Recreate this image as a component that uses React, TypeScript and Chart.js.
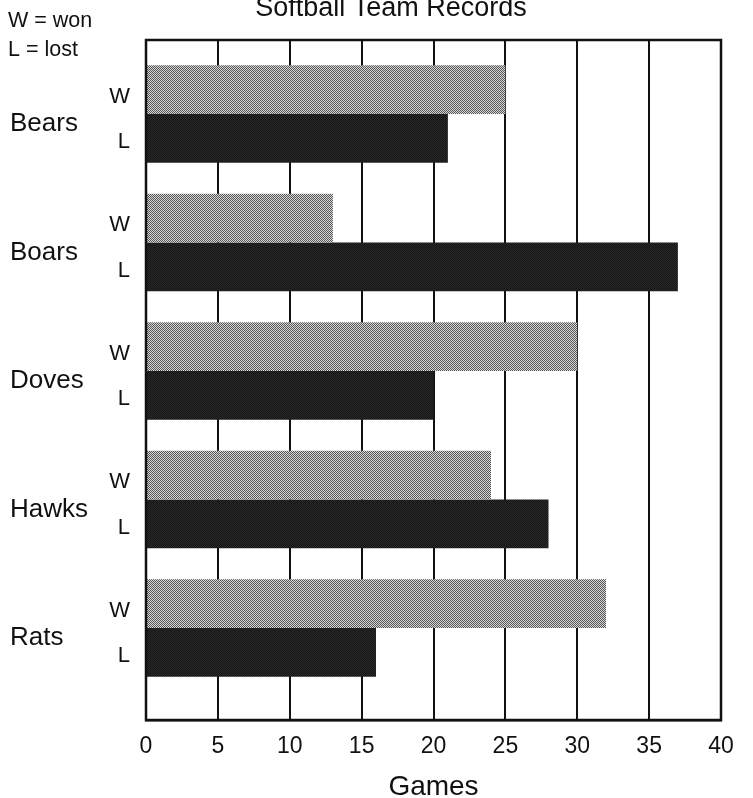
import React, { useEffect, useRef } from "react";
import { Chart, registerables } from "chart.js";

Chart.register(...registerables);

const teams = ["Bears", "Boars", "Doves", "Hawks", "Rats"];
const won = [25, 13, 30, 24, 32];
const lost = [21, 37, 20, 28, 16];
const xTicks = [0, 5, 10, 15, 20, 25, 30, 35, 40];
const seriesLabels = ["W", "L"];
const titleText = "Softball Team Records";
const keyLines = ["W = won", "L = lost"];
const xTitle = "Games";

const FONT = "'Liberation Sans', Arial, Helvetica, sans-serif";

function makePattern(a: string, b: string): CanvasPattern | string {
  const c = document.createElement("canvas");
  c.width = 2;
  c.height = 2;
  const g = c.getContext("2d");
  if (!g) return a;
  g.fillStyle = b;
  g.fillRect(0, 0, 2, 2);
  g.fillStyle = a;
  g.fillRect(0, 0, 1, 1);
  g.fillRect(1, 1, 1, 1);
  const p = g.createPattern(c, "repeat");
  return p || a;
}

export default function App() {
  const ref = useRef<HTMLCanvasElement | null>(null);

  useEffect(() => {
    document.body.style.margin = "0";
    const canvas = ref.current;
    if (!canvas) return;

    const labelShift = [7, 4];

    const textPlugin = {
      id: "extraText",
      afterDraw(chart: any) {
        const ctx = chart.ctx as CanvasRenderingContext2D;
        const area = chart.chartArea;
        ctx.save();
        ctx.strokeStyle = "#111";
        ctx.lineWidth = 2.5;
        ctx.strokeRect(area.left, area.top, area.right - area.left, area.bottom - area.top);
        ctx.fillStyle = "#111";
        ctx.font = `27px ${FONT}`;
        ctx.textAlign = "center";
        ctx.textBaseline = "alphabetic";
        ctx.fillText(titleText, 391, 16);
        ctx.font = `21.5px ${FONT}`;
        ctx.textAlign = "left";
        ctx.fillText(keyLines[0], 8, 27);
        ctx.fillText(keyLines[1], 8, 56);
        ctx.font = `22px ${FONT}`;
        ctx.textAlign = "right";
        ctx.textBaseline = "middle";
        chart.data.datasets.forEach((ds: any, di: number) => {
          const meta = chart.getDatasetMeta(di);
          meta.data.forEach((el: any) => {
            ctx.fillText(seriesLabels[di], 130, el.y + labelShift[di]);
          });
        });
        ctx.restore();
      },
    };

    const chart = new Chart(canvas, {
      type: "bar",
      data: {
        datasets: [
          {
            label: seriesLabels[0],
            data: won.map((v, i) => ({ x: v, y: i })),
            backgroundColor: makePattern("#555555", "#d8d8d8") as any,
            borderWidth: 0,
            categoryPercentage: 0.76,
            barPercentage: 1.0,
          },
          {
            label: seriesLabels[1],
            data: lost.map((v, i) => ({ x: v, y: i })),
            backgroundColor: makePattern("#141414", "#2a2a2a") as any,
            borderWidth: 0,
            categoryPercentage: 0.76,
            barPercentage: 1.0,
          },
        ],
      },
      options: {
        indexAxis: "y",
        animation: false,
        responsive: false,
        devicePixelRatio: 1,
        layout: { padding: { top: 40, right: 32, left: 10, bottom: 0 } },
        plugins: {
          legend: { display: false },
          tooltip: { enabled: false },
          title: { display: false },
        },
        scales: {
          x: {
            type: "linear",
            min: xTicks[0],
            max: xTicks[xTicks.length - 1],
            afterBuildTicks: (s: any) => {
              s.ticks = xTicks.map((v) => ({ value: v }));
            },
            afterFit: (s: any) => {
              s.height = 78;
            },
            grid: { color: "#111", lineWidth: 2, drawTicks: false },
            border: { color: "#111", width: 2.5 },
            ticks: {
              color: "#111",
              font: { family: FONT, size: 23 },
              padding: 13,
            },
            title: {
              display: true,
              text: xTitle,
              color: "#111",
              font: { family: FONT, size: 28 },
              padding: { top: 6, bottom: -6 },
            },
          },
          y: {
            type: "linear",
            reverse: true,
            offset: false,
            min: -0.576,
            max: 4.716,
            afterBuildTicks: (s: any) => {
              s.ticks = teams.map((_, i) => ({ value: i }));
            },
            afterFit: (s: any) => {
              s.width = 136;
            },
            grid: { display: false, drawTicks: false, offset: false },
            border: { display: false },
            ticks: {
              color: "#111",
              font: { family: FONT, size: 26 },
              crossAlign: "far",
              labelOffset: 10,
              padding: 0,
              callback: (v: any) => teams[Math.round(Number(v))] ?? "",
            },
          },
        },
      },
      plugins: [textPlugin],
    } as any);

    return () => chart.destroy();
  }, []);

  return (
    <div style={{ width: 753, height: 798, background: "#ffffff" }}>
      <canvas ref={ref} width={753} height={798} style={{ display: "block" }} />
    </div>
  );
}
